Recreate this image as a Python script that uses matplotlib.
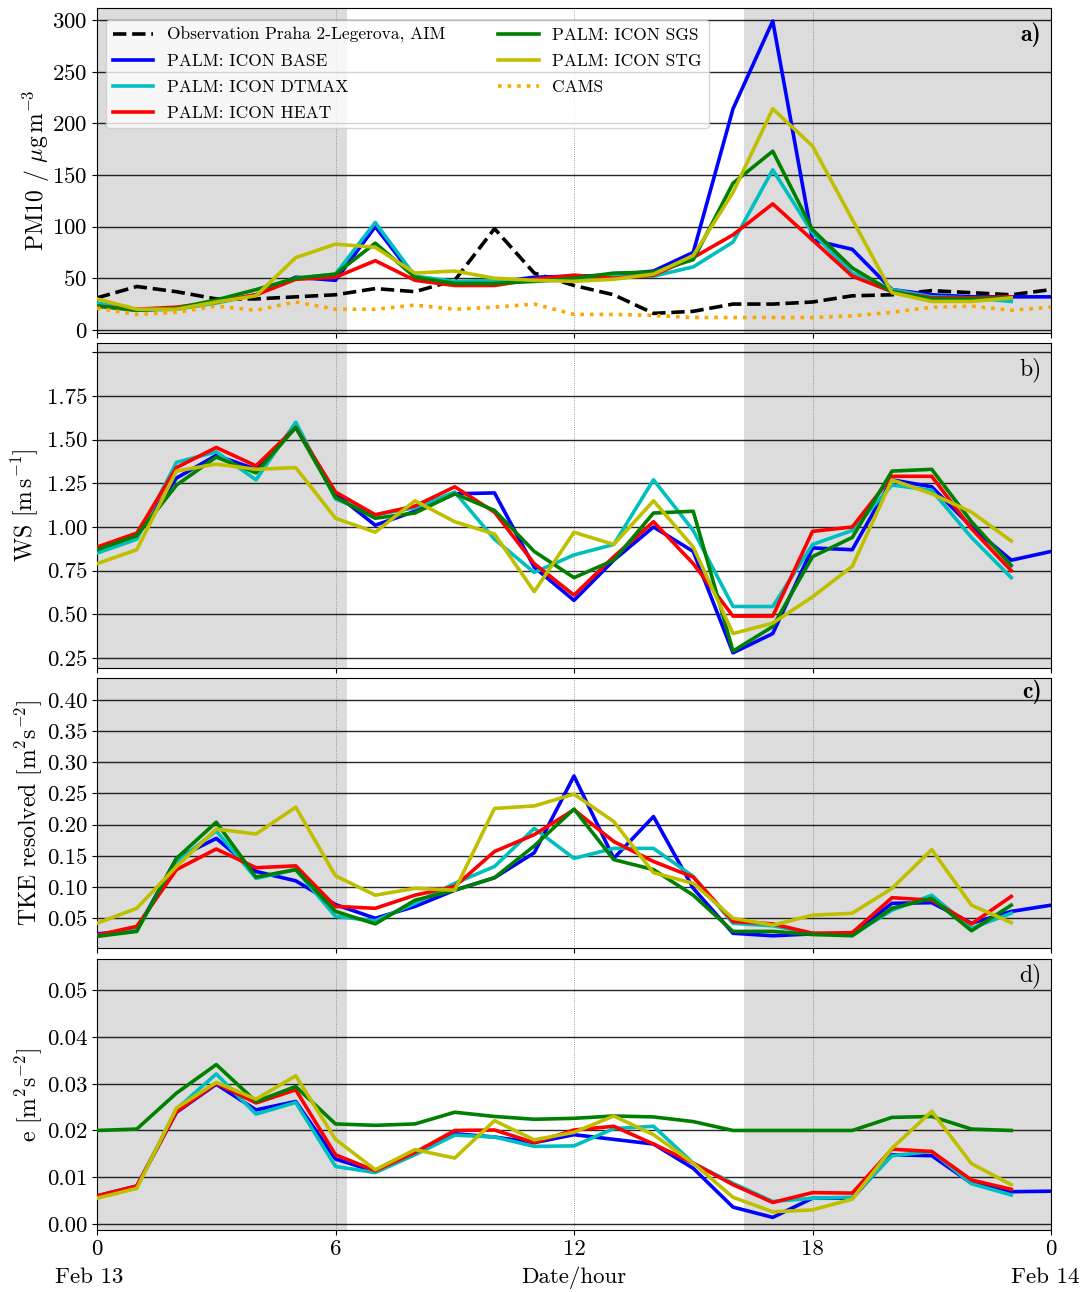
import matplotlib
matplotlib.use("Agg")
import matplotlib.pyplot as plt
import numpy as np

plt.rcParams['font.family'] = ['cmr10', 'DejaVu Serif']
plt.rcParams['mathtext.fontset'] = 'cm'
plt.rcParams['axes.formatter.use_mathtext'] = True
plt.rcParams['axes.unicode_minus'] = False

# hours of day (model output to 23, BASE / observation / CAMS to 24)
hours = list(range(24))
hours_full = list(range(25))

# ---- a) PM10 ----
pm_obs = [31, 42, 37, 30, 30, 32, 34, 40, 37, 48, 98, 55, 43, 34, 16, 18, 25, 25, 27, 33, 34, 38, 36, 34, 39]
pm_cams = [21, 15, 17, 23, 19, 27, 20, 20, 24, 20, 22, 25, 15, 15, 14, 12, 12, 12, 12, 13.5, 17, 22, 23, 19, 22]
pm_base = [24, 19, 21, 27, 34, 51, 48, 100, 50, 45, 46, 51, 52, 53, 57, 75, 214, 299, 87, 78, 39, 34, 32, 32, 32]
pm_dtmax = [26, 19, 20, 26, 34, 50, 54, 104, 52, 47, 48, 47, 49, 52, 52, 61, 85, 155, 94, 55, 39, 32, 31, 27.5]
pm_heat = [23, 20, 22, 27, 34, 49, 51, 67, 48, 43, 43, 49, 53, 50, 53, 70, 92, 122, 87, 52, 37, 31, 31, 32]
pm_sgs = [23, 19, 21, 29, 39, 50, 54, 84, 51, 45, 45, 47, 50, 55, 56, 68, 142, 173, 97, 60, 37, 30, 30, 31]
pm_stg = [30, 20, 20, 27, 33, 70, 83, 80, 55, 57, 50, 48, 47, 49, 54, 72, 133, 214, 178, 107, 36, 27.5, 27.5, 31]

# ---- b) wind speed ----
ws_base = [0.87, 0.95, 1.28, 1.41, 1.33, 1.57, 1.19, 1.01, 1.09, 1.19, 1.195, 0.77, 0.58, 0.81, 1.00, 0.86, 0.28, 0.39, 0.88, 0.87, 1.27, 1.23, 1.00, 0.81, 0.86]
ws_dtmax = [0.85, 0.93, 1.37, 1.43, 1.27, 1.60, 1.16, 1.07, 1.11, 1.20, 0.93, 0.74, 0.84, 0.90, 1.27, 0.98, 0.545, 0.545, 0.90, 0.98, 1.24, 1.21, 0.94, 0.71]
ws_heat = [0.885, 0.965, 1.34, 1.455, 1.35, 1.57, 1.20, 1.07, 1.12, 1.23, 1.085, 0.79, 0.61, 0.83, 1.03, 0.79, 0.49, 0.49, 0.975, 1.00, 1.29, 1.29, 0.99, 0.75]
ws_sgs = [0.87, 0.95, 1.24, 1.40, 1.31, 1.57, 1.17, 1.05, 1.08, 1.19, 1.095, 0.86, 0.71, 0.81, 1.08, 1.09, 0.29, 0.43, 0.83, 0.94, 1.32, 1.33, 1.03, 0.78]
ws_stg = [0.79, 0.87, 1.32, 1.36, 1.33, 1.34, 1.05, 0.97, 1.15, 1.03, 0.96, 0.63, 0.97, 0.90, 1.15, 0.885, 0.39, 0.45, 0.60, 0.775, 1.27, 1.19, 1.085, 0.92]

# ---- c) resolved TKE ----
tke_base = [0.025, 0.031, 0.146, 0.178, 0.125, 0.110, 0.072, 0.050, 0.069, 0.095, 0.115, 0.155, 0.278, 0.146, 0.213, 0.098, 0.026, 0.022, 0.025, 0.025, 0.074, 0.075, 0.042, 0.061, 0.071]
tke_dtmax = [0.023, 0.031, 0.140, 0.190, 0.114, 0.128, 0.053, 0.046, 0.074, 0.106, 0.133, 0.194, 0.146, 0.162, 0.162, 0.117, 0.042, 0.038, 0.026, 0.023, 0.063, 0.087, 0.034, 0.058]
tke_heat = [0.023, 0.037, 0.128, 0.161, 0.131, 0.134, 0.069, 0.066, 0.087, 0.101, 0.157, 0.184, 0.224, 0.173, 0.141, 0.116, 0.045, 0.041, 0.026, 0.027, 0.083, 0.079, 0.041, 0.085]
tke_sgs = [0.021, 0.029, 0.146, 0.204, 0.116, 0.128, 0.061, 0.041, 0.079, 0.095, 0.115, 0.166, 0.225, 0.144, 0.128, 0.087, 0.029, 0.029, 0.024, 0.022, 0.066, 0.082, 0.030, 0.071]
tke_stg = [0.042, 0.066, 0.133, 0.193, 0.185, 0.228, 0.118, 0.087, 0.098, 0.095, 0.226, 0.230, 0.249, 0.205, 0.123, 0.106, 0.050, 0.039, 0.055, 0.058, 0.098, 0.160, 0.071, 0.043]

# ---- d) SGS TKE ----
e_base = [0.0060, 0.0081, 0.0239, 0.0299, 0.0244, 0.0262, 0.0139, 0.0112, 0.0150, 0.0193, 0.0186, 0.0174, 0.0191, 0.0181, 0.0171, 0.0119, 0.0036, 0.0014, 0.0055, 0.0055, 0.0148, 0.0146, 0.0087, 0.0069, 0.0070]
e_dtmax = [0.0059, 0.0079, 0.0246, 0.0321, 0.0235, 0.0260, 0.0123, 0.0110, 0.0148, 0.0190, 0.0186, 0.0166, 0.0167, 0.0204, 0.0209, 0.0130, 0.0087, 0.0048, 0.0055, 0.0057, 0.0146, 0.0155, 0.0086, 0.0062]
e_heat = [0.0060, 0.0081, 0.0240, 0.0301, 0.0259, 0.0287, 0.0148, 0.0114, 0.0153, 0.0200, 0.0201, 0.0174, 0.0201, 0.0209, 0.0171, 0.0130, 0.0084, 0.0046, 0.0067, 0.0066, 0.0160, 0.0155, 0.0094, 0.0074]
e_sgs = [0.0200, 0.0203, 0.0280, 0.0341, 0.0262, 0.0294, 0.0214, 0.0211, 0.0214, 0.0239, 0.0230, 0.0224, 0.0226, 0.0231, 0.0229, 0.0219, 0.0200, 0.0200, 0.0200, 0.0200, 0.0228, 0.0230, 0.0203, 0.0200]
e_stg = [0.0055, 0.0076, 0.0248, 0.0303, 0.0267, 0.0317, 0.0181, 0.0116, 0.0159, 0.0141, 0.0221, 0.0180, 0.0196, 0.0231, 0.0191, 0.0130, 0.0057, 0.0026, 0.0030, 0.0053, 0.0162, 0.0241, 0.0129, 0.0084]

night = [(0, 6.3), (16.27, 24)]   # shaded hours (before sunrise / after sunset)

names = ['PALM: ICON BASE', 'PALM: ICON DTMAX', 'PALM: ICON HEAT', 'PALM: ICON SGS', 'PALM: ICON STG']
colors = ['b', 'c', 'r', 'g', 'y']

fig = plt.figure(figsize=(10.86, 12.92), dpi=100)
L, W = 97/1086, 954/1086
rects = [(8, 333), (343, 668), (678, 948), (959, 1230)]
axes = []
for top, bot in rects:
    ax = fig.add_axes([L, 1-bot/1292, W, (bot-top)/1292])
    axes.append(ax)

panels = [
    (axes[0], [pm_base, pm_dtmax, pm_heat, pm_sgs, pm_stg], (-3, 311.6), np.arange(0, 301, 50), None, r'PM10 / $\mu$g$\,$m$^{-3}$', 'a)', True, 0.955, 0),
    (axes[1], [ws_base, ws_dtmax, ws_heat, ws_sgs, ws_stg], (0.193, 2.053), np.arange(0.25, 2.01, 0.25), 'b', r'WS [$\mathrm{m\,s^{-1}}$]', 'b)', False, 0.955, 4),
    (axes[2], [tke_base, tke_dtmax, tke_heat, tke_sgs, tke_stg], (0.0024, 0.435), np.arange(0.05, 0.401, 0.05), 'c', r'TKE resolved [$\mathrm{m^2s^{-2}}$]', 'c)', True, 0.995, 1),
    (axes[3], [e_base, e_dtmax, e_heat, e_sgs, e_stg], (-0.0013, 0.0567), np.arange(0, 0.0501, 0.01), 'd', r'e [$\mathrm{m^2s^{-2}}$]', 'd)', False, 0.985, 1),
]

for ax, series, ylim, yt, kind, ylab, lab, bold, laby, pad in panels:
    for a, b in night:
        ax.axvspan(a, b, color='#dcdcdc', lw=0, zorder=0)
    if ax is axes[0]:
        ax.plot(hours_full, pm_obs, 'k--', lw=2.6, label='Observation Praha 2-Legerova, AIM', zorder=3)
    for i, s in enumerate(series):
        x = hours_full if len(s) == 25 else hours
        ax.plot(x, s, color=colors[i], lw=2.6, label=names[i], zorder=3)
    if ax is axes[0]:
        ax.plot(hours_full, pm_cams, ':', color='orange', lw=2.6, label='CAMS', zorder=3)
    ax.set_xlim(0, 24)
    ax.set_ylim(*ylim)
    ax.set_yticks(yt)
    if kind == 'b':
        ax.set_yticklabels(['%.2f' % v for v in yt[:-1]] + [''])
    elif kind in ('c', 'd'):
        ax.set_yticklabels(['%.2f' % v for v in yt])
    ax.set_xticks([0, 6, 12, 18, 24])
    ax.yaxis.grid(True, color='k', lw=1.0, alpha=0.85)
    ax.xaxis.grid(True, color='gray', ls=':', lw=0.6)
    ax.set_axisbelow(True)
    ax.tick_params(labelsize=16.5)
    ax.set_ylabel(ylab, fontsize=17, labelpad=pad)
    ax.text(0.99, laby, lab, transform=ax.transAxes, ha='right', va='top', fontsize=17,
            family='cmb10' if bold else 'cmr10')
    if ax is not axes[3]:
        ax.tick_params(labelbottom=False)

axes[0].legend(loc='upper left', ncol=2, fontsize=12.5, bbox_to_anchor=(0.0, 0.99),
               handlelength=2.35, columnspacing=3.0, labelspacing=0.62)

axes[3].set_xticklabels(['0', '6', '12', '18', '0'])
axes[3].set_xlabel('Date/hour', fontsize=16.5, labelpad=5)
axes[3].text(-0.2, -0.138, 'Feb 13', transform=axes[3].get_xaxis_transform(), ha='center', va='top', fontsize=16.5)
axes[3].text(23.85, -0.138, 'Feb 14', transform=axes[3].get_xaxis_transform(), ha='center', va='top', fontsize=16.5)

fig.savefig('out.png', dpi=100)
